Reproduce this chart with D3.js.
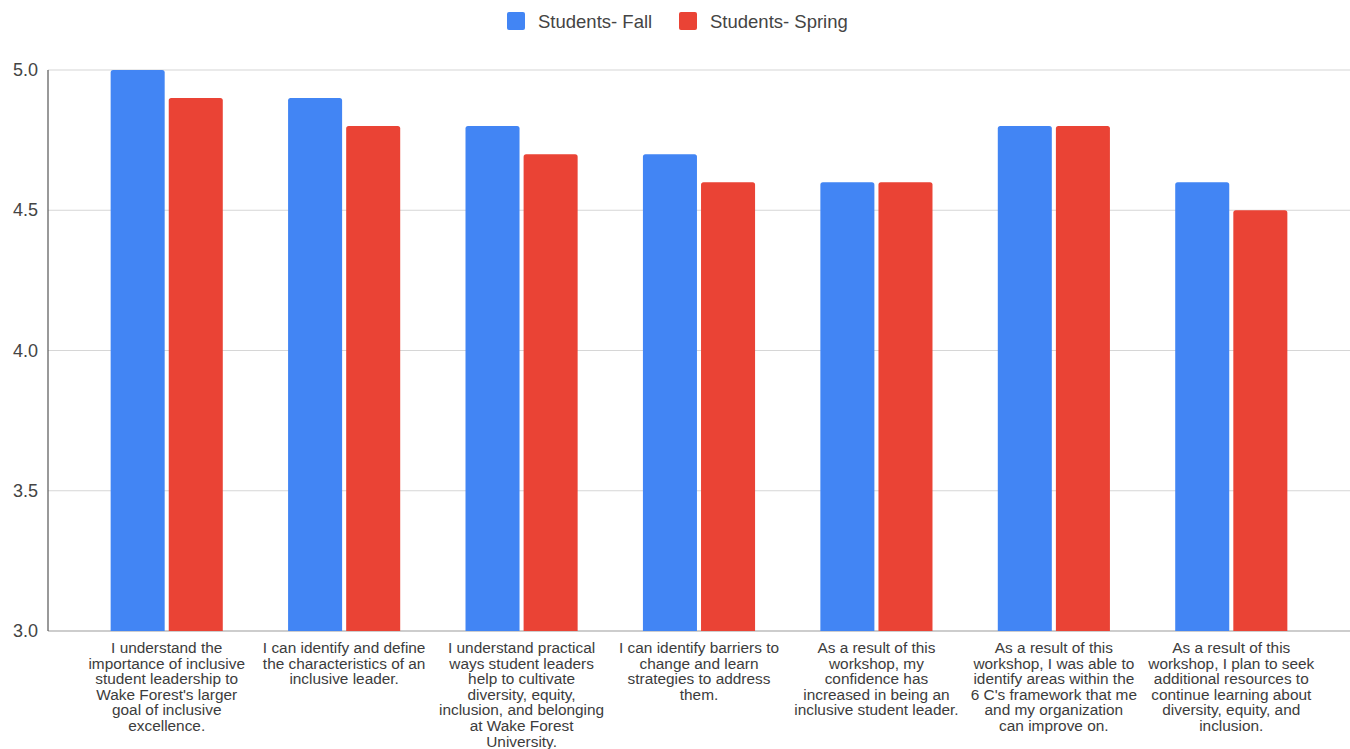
<!DOCTYPE html>
<html>
<head>
<meta charset="utf-8">
<script src="https://cdn.jsdelivr.net/npm/d3@7/dist/d3.min.js"></script>
<style>
  html, body { margin: 0; padding: 0; background: #fff; }
  svg { display: block; font-family: "Liberation Sans", Arial, sans-serif; }
</style>
</head>
<body>
<svg id="chart" width="1350" height="749"></svg>
<script>
// ── Data ──────────────────────────────────────────────────────────────────
const CATEGORY_LINES = [
  ['I understand the', 'importance of inclusive', 'student leadership to', "Wake Forest's larger", 'goal of inclusive', 'excellence.'],
  ['I can identify and define', 'the characteristics of an', 'inclusive leader.'],
  ['I understand practical', 'ways student leaders', 'help to cultivate', 'diversity, equity,', 'inclusion, and belonging', 'at Wake Forest', 'University.'],
  ['I can identify barriers to', 'change and learn', 'strategies to address', 'them.'],
  ['As a result of this', 'workshop, my', 'confidence has', 'increased in being an', 'inclusive student leader.'],
  ['As a result of this', 'workshop, I was able to', 'identify areas within the', "6 C's framework that me", 'and my organization', 'can improve on.'],
  ['As a result of this', 'workshop, I plan to seek', 'additional resources to', 'continue learning about', 'diversity, equity, and', 'inclusion.']
];
const SERIES = ['Students- Fall', 'Students- Spring'];
const FALL   = [5.0, 4.9, 4.8, 4.7, 4.6, 4.8, 4.6];
const SPRING = [4.9, 4.8, 4.7, 4.6, 4.6, 4.8, 4.5];
const Y_TICKS = [3.0, 3.5, 4.0, 4.5, 5.0];
const COLORS = ['#4285f4', '#ea4335'];

(function () {
  // ── Layout ──────────────────────────────────────────────────────────────
  const svg = d3.select('#chart');
  const axisX = 48, plotRight = 1350;
  const plotTop = 70, plotBottom = 631;

  const idx = d3.range(CATEGORY_LINES.length);
  const x = d3.scaleBand().domain(idx).range([78, 1320]).paddingInner(0.368).paddingOuter(0.184);
  const xs = d3.scaleBand().domain(SERIES).range([0, x.bandwidth()]).paddingInner(0.07);
  const y = d3.scaleLinear().domain([3, 5]).range([plotBottom, plotTop]);

  // gridlines
  svg.append('g').selectAll('line')
    .data(Y_TICKS)
    .join('line')
    .attr('x1', axisX).attr('x2', plotRight)
    .attr('y1', d => y(d)).attr('y2', d => y(d))
    .attr('stroke', d => d === 3 ? '#bdbdbd' : '#d6d6d6')
    .attr('stroke-width', d => d === 3 ? 1.5 : 1.2);

  // y labels
  svg.append('g').selectAll('text')
    .data(Y_TICKS)
    .join('text')
    .attr('x', 38).attr('y', d => y(d))
    .attr('text-anchor', 'end')
    .attr('dominant-baseline', 'central')
    .attr('font-size', 18)
    .attr('fill', '#444')
    .text(d => d.toFixed(1));

  // bars (small rounded top corners)
  const series = [FALL, SPRING];
  const rx = 2.5;
  function barPath(x0, w, y0, y1) {
    return 'M' + x0 + ',' + y1 +
      'V' + (y0 + rx) + 'Q' + x0 + ',' + y0 + ' ' + (x0 + rx) + ',' + y0 +
      'H' + (x0 + w - rx) + 'Q' + (x0 + w) + ',' + y0 + ' ' + (x0 + w) + ',' + (y0 + rx) +
      'V' + y1 + 'Z';
  }
  series.forEach(function (vals, si) {
    svg.append('g').selectAll('path')
      .data(vals)
      .join('path')
      .attr('d', (v, i) => barPath(x(i) + xs(SERIES[si]), xs.bandwidth(), y(v), y(3)))
      .attr('fill', COLORS[si]);
  });

  // y axis line
  svg.append('line')
    .attr('x1', axisX).attr('x2', axisX)
    .attr('y1', plotTop).attr('y2', plotBottom)
    .attr('stroke', '#555').attr('stroke-width', 1.2);

  // category labels
  const lab = svg.append('g').selectAll('text')
    .data(CATEGORY_LINES)
    .join('text')
    .attr('text-anchor', 'middle')
    .attr('font-size', 15.4)
    .attr('fill', '#3c3c3c');
  lab.each(function (lines, i) {
    d3.select(this).selectAll('tspan')
      .data(lines)
      .join('tspan')
      .attr('x', x(i) + x.bandwidth() / 2)
      .attr('y', (d, j) => 653 + j * 15.6)
      .text(d => d);
  });

  // legend
  const legend = svg.append('g');
  const legendX = [507, 679];
  SERIES.forEach(function (s, i) {
    legend.append('rect')
      .attr('x', legendX[i]).attr('y', 12)
      .attr('width', 18).attr('height', 18).attr('rx', 2)
      .attr('fill', COLORS[i]);
    legend.append('text')
      .attr('x', legendX[i] + 31).attr('y', 21)
      .attr('dominant-baseline', 'central')
      .attr('font-size', 18.5)
      .attr('fill', '#444')
      .text(s);
  });
})();
</script>
</body>
</html>
